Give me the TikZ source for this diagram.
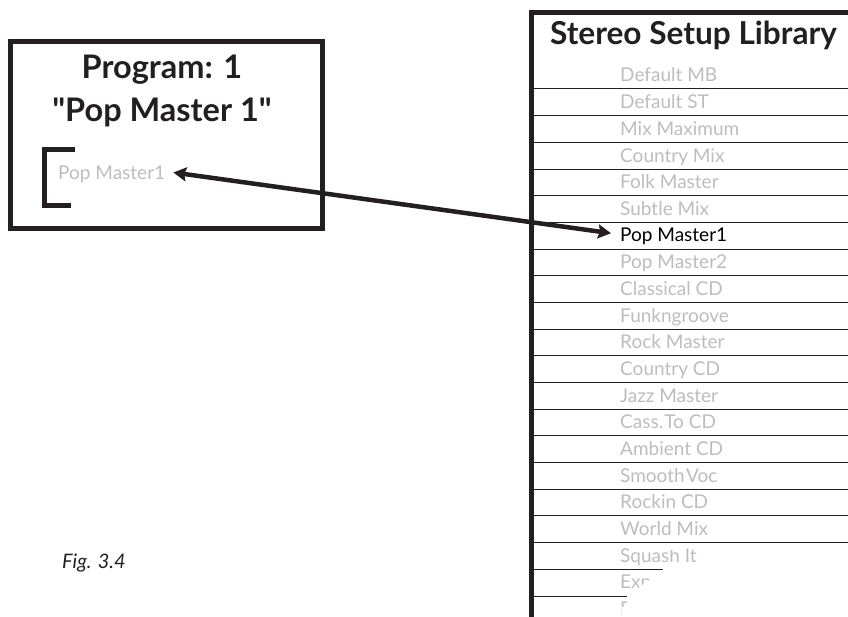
\documentclass[tikz,border=0pt]{standalone}
\usepackage{fontspec}
\usetikzlibrary{arrows.meta}
\setmainfont{Lato}
\newfontfamily\plainquotes{Lato}
\definecolor{ink}{HTML}{231F20}
\definecolor{dim}{HTML}{BDBDBD}
\tikzset{
 frame/.style={draw=ink,line width=5pt},
 rule/.style={draw=ink,line width=1pt},
 head/.style={inner sep=0pt,text=ink,font=\fontsize{32.5}{32.5}\selectfont\bfseries,anchor=base},
 item/.style={inner sep=0pt,anchor=base west,text=dim,font=\fontsize{19}{19}\selectfont},
 link/.style={draw=ink,line width=4.5pt,{Stealth[length=13pt,width=14pt,inset=2pt]}-{Stealth[length=13pt,width=14pt,inset=2pt]}},
}
\begin{document}
\begin{tikzpicture}[x=1pt,y=-1pt]
\useasboundingbox (0,0) rectangle (848,617);
\draw[frame] (10.5,41.5) rectangle (322.5,228.5);
\node[head] (progA) at (162,79) {Program: 1};
\node[head] (progB) at (162,122) {\plainquotes\bfseries "Pop Master 1"};
\draw[frame] (75,149.5) -- (44.5,149.5) -- (44.5,205.5) -- (71,205.5);
\node[item,inner xsep=8pt,text height=15pt,text depth=0pt] (popL) at (50,180) {Pop Master1};
\draw[frame] (531.5,617) -- (531.5,12.5) -- (848,12.5);
\node[head,font=\fontsize{31.6}{31.6}\selectfont\bfseries] (lib) at (693.5,45) {Stereo Setup Library};
\foreach \i in {0,...,17}{
  \draw[rule] (534,89+26.67*\i) -- (848,89+26.67*\i);
}
\draw[rule] (534,569) -- (663,569);
\draw[rule] (534,596) -- (627,596);
\foreach \n/\t in {0/Default MB,1/Default ST,2/Mix Maximum,3/Country Mix,4/Folk Master,5/Subtle Mix,7/Pop Master2,8/Classical CD,9/Funkngroove,10/Rock Master,11/Country CD,12/Jazz Master,13/Cass.\hspace{1pt}To CD,14/Ambient CD,15/Smooth\hspace{1.5pt}Voc,16/Rockin CD,17/World Mix,18/Squash It,19/Expa,20/F}{
  \node[item] (row\n) at (620,82+26.67*\n) {\t};
}
% torn-away corner of the page
\fill[white] (664,544) -- (680,544) -- (680,548.5) -- (664,551) -- cycle;
\fill[white] (663,569.6) -- (700,569.6) -- (700,617) -- (622,617) -- (622,607) -- (627,607) -- (627,596.6) -- cycle;
\node[item,inner xsep=9pt,text=black,text height=17.5pt,text depth=0pt] (popR) at (611,242) {Pop Master1};
\draw[link] (popL.east) -- (popR.west);
\node[inner sep=0pt,anchor=base west,text=ink,font=\fontsize{20}{20}\selectfont\itshape] (fig) at (62,568) {Fig. 3.4};
\end{tikzpicture}
\end{document}
